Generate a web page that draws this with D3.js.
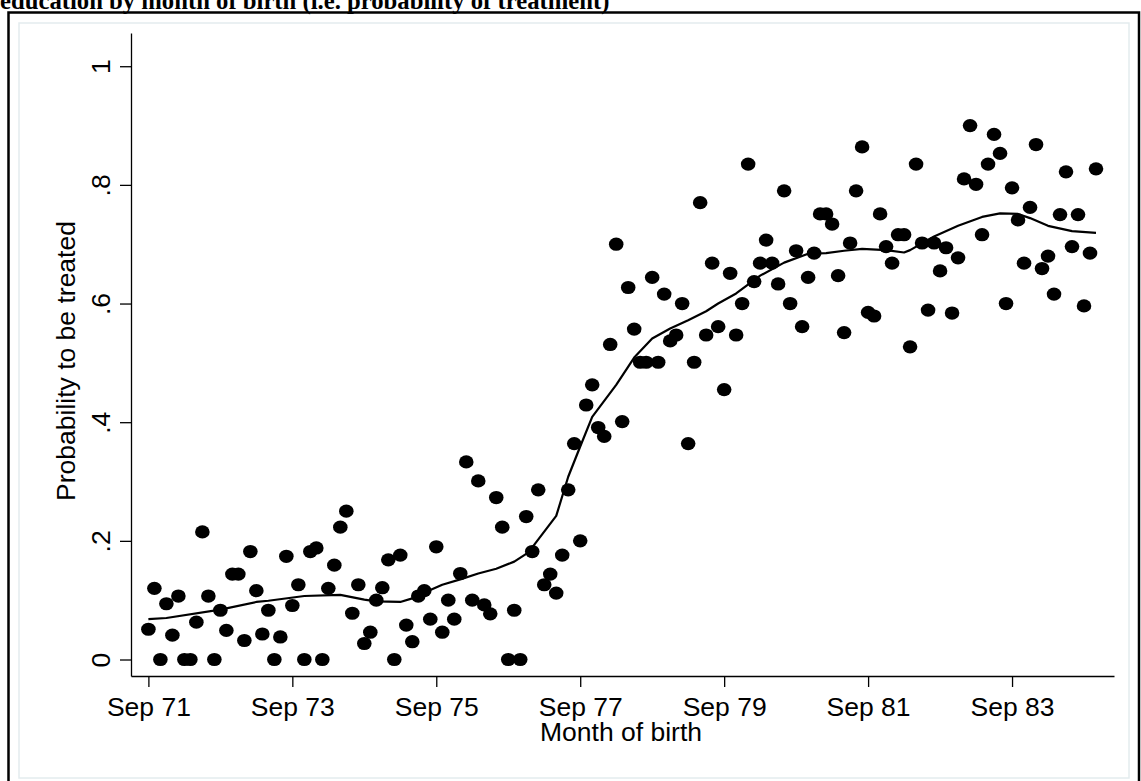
<!DOCTYPE html>
<html>
<head>
<meta charset="utf-8">
<script src="https://cdnjs.cloudflare.com/ajax/libs/d3/7.8.5/d3.min.js"></script>
<style>
  body { margin: 0; background: #fff; }
  svg { display: block; }
  .axis text { font-family: "Liberation Sans", Arial, sans-serif; font-size: 26.5px; fill: #000; }
  .axis path, .axis line { stroke: #000; stroke-width: 1.3px; }
</style>
</head>
<body>
<script>

// months counted from Sep 71 (0 = Sep 71)
var xTickMonths = [0, 24, 48, 72, 96, 120, 144];
var xTickLabels = ["Sep 71", "Sep 73", "Sep 75", "Sep 77", "Sep 79", "Sep 81", "Sep 83"];

var yTickValues = [0, 0.2, 0.4, 0.6, 0.8, 1];
var yTickLabels = ["0", ".2", ".4", ".6", ".8", "1"];

// share treated, one value per month of birth, Sep 71 onwards
var probTreated = [
  .051, .12, 0, .094, .041, .107, 0, 0, .063, .215, .107, 0,
  .083, .049, .144, .144, .032, .182, .116, .043, .083, 0, .038, .174,
  .091, .126, 0, .182, .188, 0, .12, .159, .223, .25, .078, .126,
  .027, .046, .1, .121, .168, 0, .176, .058, .030, .107, .116, .068,
  .19, .046, .1, .068, .145, .333, .1, .301, .092, .077, .273, .223,
  0, .083, 0, .241, .182, .286, .126, .144, .112, .176, .286, .364,
  .2, .429, .463, .391, .376, .531, .70, .401, .627, .557, .501, .501,
  .644, .501, .616, .537, .547, .60, .364, .501, .77, .547, .668, .561,
  .455, .651, .547, .60, .835, .637, .668, .707, .668, .633, .79, .60,
  .689, .561, .644, .685, .751, .751, .734, .647, .551, .702, .79, .864,
  .585, .579, .751, .696, .668, .716, .716, .527, .835, .702, .589, .702,
  .655, .694, .584, .677, .81, .90, .801, .716, .835, .885, .853, .60,
  .795, .741, .668, .762, .868, .659, .68, .616, .75, .822, .696, .75,
  .596, .685, .827
];

// lowess smooth, read at its vertices
var lowessMonths = [0, 3, 12, 18, 20, 26, 32, 36, 38, 42, 44, 47, 49, 52, 55, 58, 61, 63, 64,
  68, 70, 72, 74, 78, 81, 84, 87, 90, 93, 95, 98, 102, 106, 110, 113, 116, 119, 123, 126, 127,
  131, 135, 139, 142, 145, 147, 150, 154, 158];
var lowessValues = [.068, .070, .084, .097, .099, .107, .109, .101, .098, .097, .103, .117, .126, .135, .145, .153, .165, .178, .189,
  .242, .308, .359, .409, .463, .509, .541, .558, .572, .587, .60, .617, .647, .669, .684, .685, .689, .692, .69, .686, .69,
  .713, .731, .746, .752, .751, .744, .731, .722, .719];

var W = 1141, H = 781;

var svg = d3.select("body").append("svg")
  .attr("width", W)
  .attr("height", H);

svg.append("rect").attr("width", W).attr("height", H).attr("fill", "#fff");

// title, cut off at the top like the original export
svg.append("text")
  .attr("x", 0)
  .attr("y", 9)
  .style("font-family", "'Liberation Serif', 'Times New Roman', serif")
  .style("font-weight", "bold")
  .style("font-size", "24.7px")
  .text("education by month of birth (i.e. probability of treatment)");

// outer frame + light inner graph region border
svg.append("rect")
  .attr("x", 8.5).attr("y", 12.5)
  .attr("width", 1130.5).attr("height", 790)
  .attr("fill", "none")
  .attr("stroke", "#000")
  .attr("stroke-width", 2.5);

svg.append("rect")
  .attr("x", 19).attr("y", 23)
  .attr("width", 1110).attr("height", 755)
  .attr("fill", "none")
  .attr("stroke", "#e3ecee")
  .attr("stroke-width", 1.5);

// scales
var x = d3.scaleLinear().domain([-2.9, 161]).range([131, 1114]);
var y = d3.scaleLinear().domain([-0.0278, 1.056]).range([676, 33]);

// x axis
var xAxis = svg.append("g")
  .attr("class", "axis")
  .attr("transform", "translate(0,676)")
  .call(d3.axisBottom(x)
    .tickValues(xTickMonths)
    .tickFormat(function(d, i) { return xTickLabels[i]; })
    .tickSize(11)
    .tickSizeOuter(0));

xAxis.selectAll("text")
  .attr("y", 40)
  .attr("dy", 0);

// y axis, labels turned like Stata does
var yAxis = svg.append("g")
  .attr("class", "axis")
  .attr("transform", "translate(131,0)")
  .call(d3.axisLeft(y)
    .tickValues(yTickValues)
    .tickFormat(function(d, i) { return yTickLabels[i]; })
    .tickSize(11)
    .tickSizeOuter(0));

yAxis.selectAll("text")
  .attr("transform", "rotate(-90)")
  .attr("x", 0)
  .attr("y", -21)
  .attr("dy", 0)
  .attr("text-anchor", "middle");

// axis titles
svg.append("text")
  .attr("x", 621)
  .attr("y", 741)
  .attr("text-anchor", "middle")
  .style("font-family", "'Liberation Sans', Arial, sans-serif")
  .style("font-size", "26.5px")
  .text("Month of birth");

svg.append("text")
  .attr("transform", "translate(75,361) rotate(-90)")
  .attr("text-anchor", "middle")
  .style("font-family", "'Liberation Sans', Arial, sans-serif")
  .style("font-size", "26.5px")
  .text("Probability to be treated");

// scatter
svg.append("g")
  .selectAll("ellipse")
  .data(probTreated)
  .enter().append("ellipse")
  .attr("cx", function(d, i) { return x(i); })
  .attr("cy", function(d) { return y(d); })
  .attr("rx", 7.3)
  .attr("ry", 6.6)
  .attr("fill", "#000");

// lowess line
var lowess = lowessMonths.map(function(m, i) { return { m: m, v: lowessValues[i] }; });

var valueline = d3.line()
  .x(function(d) { return x(d.m); })
  .y(function(d) { return y(d.v); });

svg.append("path")
  .datum(lowess)
  .attr("d", valueline)
  .attr("fill", "none")
  .attr("stroke", "#000")
  .attr("stroke-width", 2.2)
  .attr("stroke-linejoin", "round");

</script>
</body>
</html>
